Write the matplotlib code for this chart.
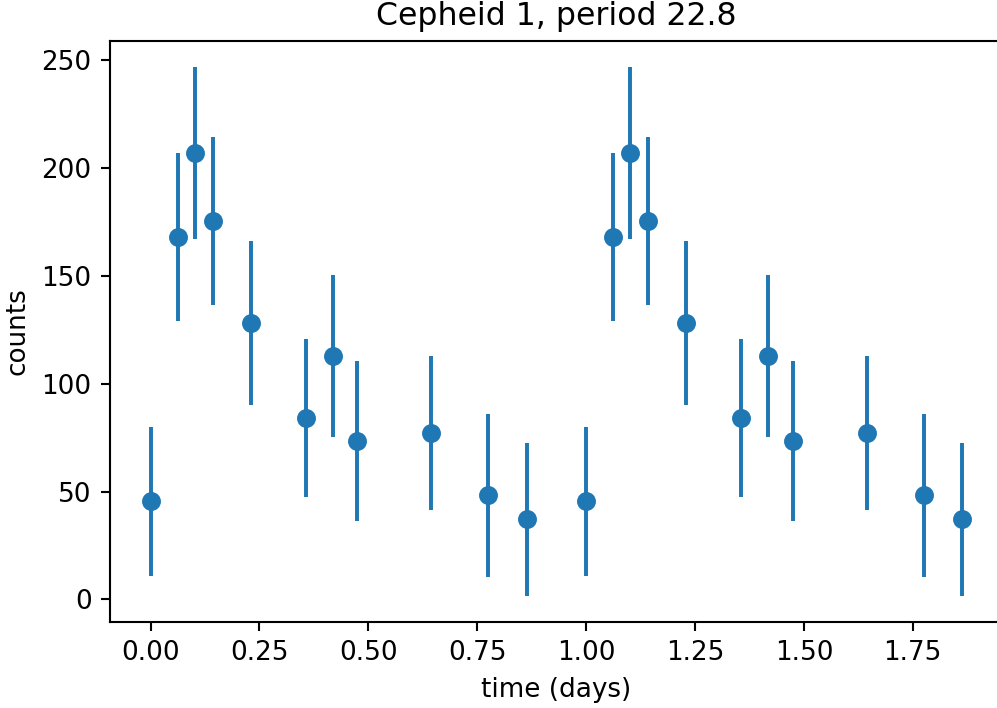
import matplotlib
matplotlib.use("Agg")
import matplotlib.pyplot as plt
import numpy as np

time_days = [0.000, 0.062, 0.101, 0.143, 0.230, 0.356, 0.418, 0.474, 0.644, 0.775, 0.864]
counts = [45.5, 167.9, 206.9, 175.3, 128.0, 84.0, 112.7, 73.3, 77.0, 48.2, 37.1]
errors = [34.5, 39.0, 39.7, 39.0, 38.0, 36.5, 37.6, 37.0, 35.7, 37.8, 35.3]

t = np.concatenate([np.array(time_days), np.array(time_days) + 1.0])
c = np.concatenate([counts, counts])
e = np.concatenate([errors, errors])

DPI = 189
fig = plt.figure(figsize=(998 / DPI, 708 / DPI), dpi=DPI)
ax = fig.add_axes([110 / 998, 1 - 622 / 708, 893 / 998, 581 / 708])
ax.errorbar(t, c, yerr=e, fmt='o', color='#1f77b4', markersize=6.2)
ax.set_title("Cepheid 1, period 22.8")
ax.set_xlabel("time (days)")
ax.set_ylabel("counts")
fig.savefig("out.png", dpi=DPI)
